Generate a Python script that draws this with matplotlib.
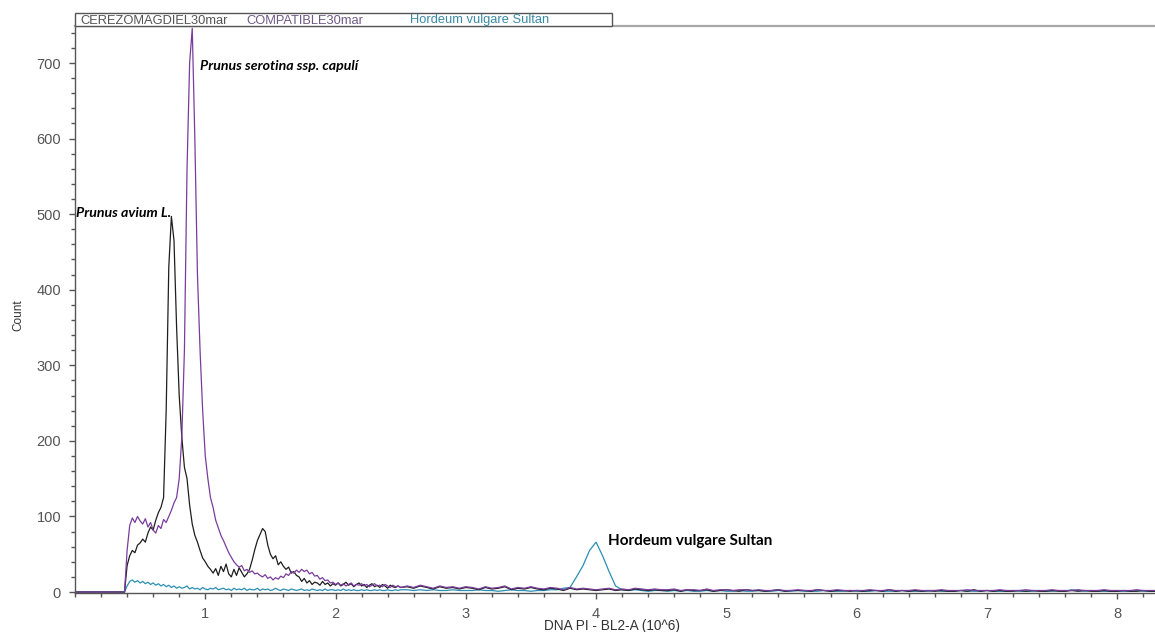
import numpy as np
import matplotlib
matplotlib.use("Agg")
import matplotlib.pyplot as plt
from matplotlib.ticker import MultipleLocator
from matplotlib.patches import Rectangle

# ---- data -------------------------------------------------------------
series_names = ["CEREZOMAGDIEL30mar", "COMPATIBLE30mar", "Hordeum vulgare Sultan"]

# channel positions (DNA PI - BL2-A, 10^6)
fine_start, fine_step, fine_n = 0.36, 0.02, 108
tail_start, tail_step, tail_n = 2.55, 0.05, 116

black_fine = [0, 0, 35, 48, 55, 52, 62, 65, 70, 66, 78, 86, 82, 95, 105, 112, 125, 240, 430, 497,
              465, 350, 260, 205, 165, 150, 115, 90, 75, 66, 55, 45, 40,
              34, 30, 25, 31, 22, 34, 27, 37, 24, 20,
              30, 22, 32, 26, 20, 24, 30, 42, 56, 68,
              76, 84, 80, 62, 50, 44, 48, 36, 40, 34,
              30, 33, 25, 27, 22, 20, 14, 18, 12, 15,
              10, 13, 12, 9, 14, 10, 12, 8, 11, 9,
              12, 8, 10, 13, 9, 11, 7, 10, 12, 8,
              10, 6, 9, 11, 7, 9, 6, 10, 8, 5,
              9, 7, 6, 8, 6]
black_tail = [7, 5, 8, 6, 4, 7, 5, 6, 4, 6,
              5, 3, 6, 4, 5, 7, 3, 5, 4, 6,
              4, 3, 5, 4, 2, 5, 3, 4, 3, 2,
              3, 4, 2, 3, 2, 4, 3, 2, 3, 2,
              2, 3, 1, 3, 2, 2, 3, 1, 2, 3,
              2, 1, 3, 2, 2, 1, 2, 3, 1, 2,
              2, 2, 1, 3, 2, 1, 2, 2, 1, 2,
              1, 2, 2, 1, 3, 1, 2, 1, 2, 1,
              2, 1, 2, 1, 1, 2, 1, 3, 1, 2,
              1, 2, 1, 1, 2, 1, 2, 1, 1, 2,
              1, 1, 2, 1, 2, 1, 1, 2, 1, 1,
              2, 1, 1, 2, 1, 1]

purple_fine = [0, 0, 55, 88, 98, 92, 100, 94, 90, 97, 86, 92, 82, 78, 88, 84, 96, 92, 100, 108,
               118, 125, 150, 205, 320, 560, 700, 746, 600, 420, 320, 240, 180,
               150, 125, 112, 95, 85, 75, 68, 60, 52, 46,
               40, 36, 33, 35, 28, 30, 26, 28, 24, 25,
               22, 20, 23, 18, 20, 16, 19, 17, 21, 19,
               24, 22, 27, 25, 29, 26, 30, 27, 29, 24,
               26, 21, 22, 17, 19, 15, 16, 12, 13, 10,
               12, 9, 11, 8, 10, 12, 8, 10, 9, 11,
               8, 10, 7, 9, 11, 8, 9, 7, 10, 8,
               6, 9, 7, 8, 6]
purple_tail = [8, 6, 9, 7, 5, 8, 6, 7, 5, 7,
               6, 4, 7, 5, 6, 8, 4, 6, 5, 7,
               5, 4, 6, 5, 3, 6, 4, 5, 4, 3,
               4, 5, 3, 4, 3, 5, 4, 3, 4, 3,
               3, 4, 2, 3, 3, 2, 4, 2, 3, 3,
               2, 3, 3, 2, 3, 2, 2, 3, 2, 2,
               3, 2, 2, 3, 2, 2, 3, 2, 2, 2,
               2, 3, 2, 2, 3, 2, 2, 2, 3, 2,
               2, 2, 3, 2, 2, 2, 3, 2, 2, 2,
               2, 3, 2, 2, 2, 3, 2, 2, 2, 3,
               2, 2, 2, 3, 2, 2, 2, 3, 2, 2,
               2, 2, 3, 2, 2, 2]

teal_fine = [0, 0, 8, 14, 16, 13, 15, 12, 14, 11, 13, 10, 12, 9, 11, 8, 10, 7, 9, 6,
             8, 5, 7, 5, 6, 8, 4, 6, 4, 5, 3, 6, 4,
             3, 5, 4, 6, 3, 4, 5, 3, 4, 2,
             5, 3, 4, 3, 5, 2, 4, 3, 3, 5,
             2, 4, 3, 4, 2, 3, 5, 3, 2, 4,
             3, 2, 4, 3, 2, 3, 4, 2, 3, 2,
             4, 3, 2, 3, 2, 4, 2, 3, 3, 2,
             3, 2, 4, 2, 3, 2, 3, 2, 2, 3,
             2, 3, 2, 2, 3, 2, 3, 2, 2, 3,
             2, 2, 3, 2, 3]
teal_tail = [3, 2, 3, 2, 3, 2, 2, 3, 2, 2,
             2, 3, 2, 2, 1, 2, 3, 2, 2, 1,
             2, 2, 3, 3, 5, 6, 20, 35, 55, 66,
             48, 27, 8, 3, 2, 3, 2, 1, 2, 2,
             1, 2, 1, 2, 1, 1, 2, 1, 2, 1,
             1, 2, 1, 1, 2, 1, 1, 2, 1, 1,
             2, 1, 1, 1, 2, 1, 1, 1, 2, 1,
             1, 1, 2, 1, 1, 1, 2, 1, 1, 1,
             1, 2, 1, 1, 1, 2, 1, 1, 1, 2,
             1, 1, 1, 2, 1, 1, 1, 2, 1, 1,
             2, 1, 3, 2, 1, 2, 1, 1, 1, 1,
             1, 1, 2, 1, 1, 1]

x_ticks = [1, 2, 3, 4, 5, 6, 7, 8]
y_ticks = [0, 100, 200, 300, 400, 500, 600, 700]

# ---- build channels ---------------------------------------------------
channels = np.concatenate([[0.0],
                           fine_start + fine_step * np.arange(fine_n),
                           tail_start + tail_step * np.arange(tail_n)])
black = np.array([0] + black_fine + black_tail, dtype=float)
purple = np.array([0] + purple_fine + purple_tail, dtype=float)
teal = np.array([0] + teal_fine + teal_tail, dtype=float)

# ---- figure -----------------------------------------------------------
W, H = 1155, 632
fig = plt.figure(figsize=(W / 100, H / 100), dpi=100)
ax = fig.add_axes([75 / W, 1 - 593 / H, 1 - 75 / W, (593 - 26) / H])

c_black = "#1e1e1e"
c_purple = "#7a3c9c"
c_teal = "#2b8fb3"

ax.plot(channels, teal, color=c_teal, lw=0.9)
ax.plot(channels, black, color=c_black, lw=0.9)
ax.plot(channels, purple, color=c_purple, lw=0.9)

ax.set_xlim(0, (W - 74.7) / 130.3)
ax.set_ylim(-1.3, (592 - 26) / 0.7557)

ax.set_xticks(x_ticks)
ax.set_yticks(y_ticks)
ax.xaxis.set_minor_locator(MultipleLocator(0.2))
ax.yaxis.set_minor_locator(MultipleLocator(20))

ax.spines["right"].set_visible(False)
ax.spines["top"].set_color("#a8a8a8")
ax.spines["top"].set_linewidth(1.6)
for s in ["left", "bottom"]:
    ax.spines[s].set_color("#555555")
    ax.spines[s].set_linewidth(1.0)

ax.tick_params(axis="both", which="major", length=4, width=1, color="#555555",
               labelcolor="#555555", labelsize=10.5)
ax.tick_params(axis="both", which="minor", length=3, width=1, color="#555555")
ax.tick_params(axis="y", pad=6)
ax.tick_params(axis="x", pad=6)
for lab in ax.get_xticklabels() + ax.get_yticklabels():
    lab.set_fontfamily("Liberation Sans")

fig.text(18 / W, 1 - 315 / H, "Count", rotation=90, ha="center", va="center",
         fontsize=8.5, color="#333333", family="Liberation Sans")
fig.text(612 / W, 1 - 626 / H, "DNA PI - BL2-A (10^6)", ha="center", va="center",
         fontsize=9.8, color="#333333", family="Liberation Sans")

# legend strip on top
box = Rectangle((75 / W, 1 - 26 / H), (612 - 75) / W, 13 / H,
                transform=fig.transFigure, facecolor="white",
                edgecolor="#555555", lw=1.0, zorder=1)
fig.add_artist(box)
leg_colors = ["#555555", "#6f5a86", "#3b8aa6"]
leg_x = [80, 246, 410]
for name, col, lx in zip(series_names, leg_colors, leg_x):
    fig.text(lx / W, 1 - 23.5 / H, name, ha="left", va="baseline", fontsize=9.3,
             color=col, family="Liberation Sans", zorder=10)

# annotations
ax.text(0.005, 501, "Prunus avium L.", ha="left", va="center", fontsize=10.2,
        fontweight="bold", fontstyle="italic", family="Lato", color="black")
ax.text(0.962, 696, "Prunus serotina ssp. capulí", ha="left", va="center", fontsize=10.2,
        fontweight="bold", fontstyle="italic", family="Lato", color="black")
ax.text(4.093, 67, "Hordeum vulgare Sultan", ha="left", va="center", fontsize=11,
        fontweight="bold", family="Lato", color="black")

fig.savefig("out.png", dpi=100)
